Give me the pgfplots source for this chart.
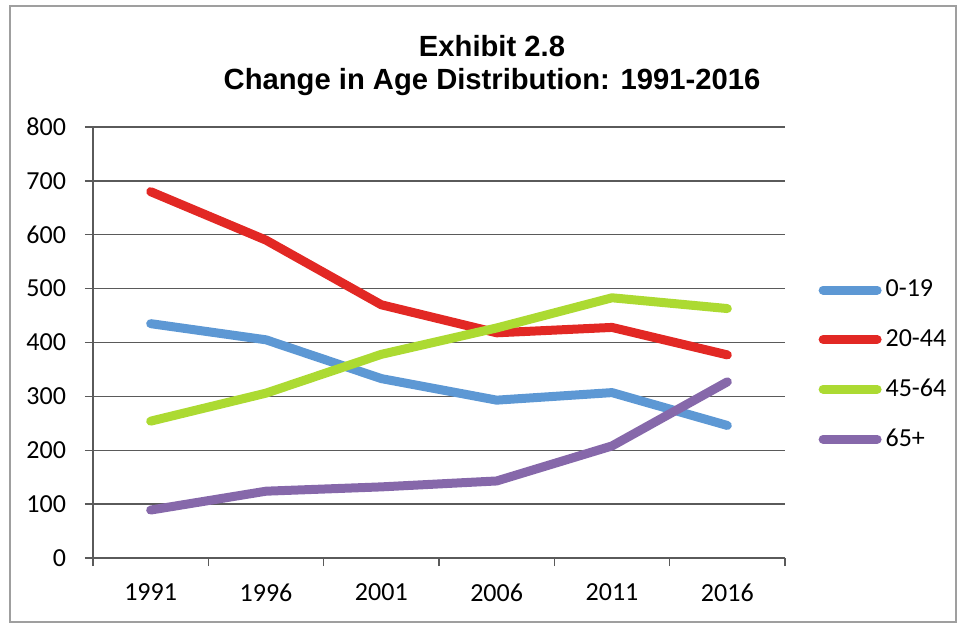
\documentclass[border=0pt]{standalone}
\usepackage{fontspec}
\setmainfont{Carlito}
\newfontfamily\titlefont{Liberation Sans}
\usepackage{pgfplots}
\pgfplotsset{compat=1.18}

\definecolor{c019}{RGB}{93,152,212}
\definecolor{c2044}{RGB}{226,40,36}
\definecolor{c4564}{RGB}{172,218,50}
\definecolor{c65}{RGB}{134,104,170}
\definecolor{gridc}{RGB}{90,90,90}

\begin{document}
\begin{tikzpicture}
  % page area (480.5pt x 312.5pt) and frame
  \useasboundingbox (0pt,0pt) rectangle (480.5pt,312.5pt);
  \draw[gray!75, line width=1.2pt] (5pt,1.5pt) rectangle (478pt,309.5pt);
  % title
  \node[font=\titlefont\bfseries\fontsize{14.6}{16.5}\selectfont, align=center]
    at (246pt,279.5pt) {Exhibit 2.8\\Change in Age Distribution: 1991-2016};

  \begin{axis}[
    at={(46.5pt,33.5pt)}, anchor=south west,
    scale only axis,
    width=346pt, height=215.5pt,
    xmin=-0.5, xmax=5.5,
    ymin=0, ymax=800,
    axis x line=bottom, axis y line=left,
    axis line style={-, draw=gridc, line width=0.7pt},
    xtick={0,1,2,3,4,5},
    xticklabels={1991,1996,2001,2006,2011,2016},
    minor xtick={-0.5,0.5,1.5,2.5,3.5,4.5,5.5},
    major x tick style={draw=none},
    minor x tick style={draw=gridc, line width=0.7pt},
    ytick={0,100,...,800},
    y tick style={draw=gridc, line width=0.7pt},
    tick align=outside,
    major tick length=4pt, minor tick length=4pt,
    ymajorgrids,
    grid style={draw=gridc, line width=0.7pt},
    tick label style={font=\fontsize{13}{15}\selectfont},
    /pgf/number format/assume math mode=true,
    yticklabel style={xshift=-6pt},
    xticklabel style={yshift=-5.5pt},
    clip=false,
    legend style={
      at={(1.048,0.655)}, anchor=north west,
      draw=none, fill=none,
      font=\fontsize{13}{15}\selectfont,
      row sep=10.75pt, inner sep=0pt,
      /tikz/every even column/.append style={column sep=0pt},
    },
    legend cell align=left,
    legend image code/.code={
      \draw[#1, line cap=round] (0pt,0pt) -- (27pt,0pt);
    },
    every axis plot/.append style={line width=4.5pt, line cap=round, line join=round},
  ]
    \addplot[c019] coordinates {(0,435) (1,405) (2,333) (3,293) (4,307) (5,246)};
    \addlegendentry{0-19}
    \addplot[c2044] coordinates {(0,680) (1,590) (2,470) (3,418) (4,428) (5,377)};
    \addlegendentry{20-44}
    \addplot[c4564] coordinates {(0,254) (1,306) (2,378) (3,427) (4,483) (5,463)};
    \addlegendentry{45-64}
    \addplot[c65] coordinates {(0,89) (1,124) (2,132) (3,143) (4,208) (5,327)};
    \addlegendentry{65+}
  \end{axis}
\end{tikzpicture}
\end{document}
